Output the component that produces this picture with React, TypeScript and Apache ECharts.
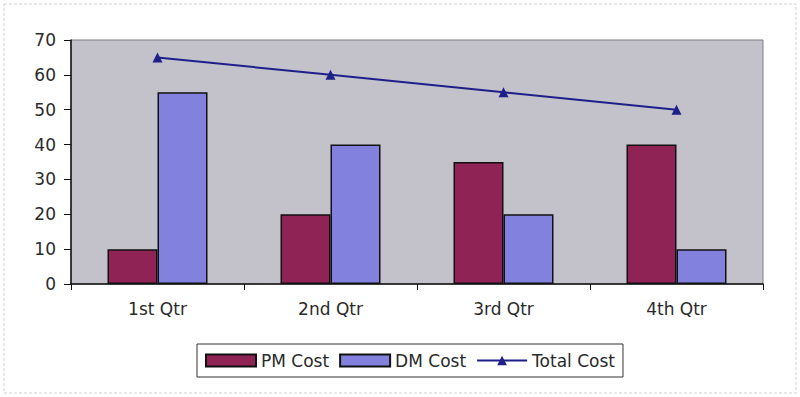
import React, { useEffect, useRef } from "react";
import * as echarts from "echarts";

const categories = ["1st Qtr", "2nd Qtr", "3rd Qtr", "4th Qtr"];
const pmCost = [10, 20, 35, 40];
const dmCost = [55, 40, 20, 10];
const totalCost = [65, 60, 55, 50];

export default function App() {
  const ref = useRef<HTMLDivElement>(null);
  useEffect(() => {
    const chart = echarts.init(ref.current!, null, { renderer: "svg" });
    const font = "'DejaVu Sans', Verdana, sans-serif";
    chart.setOption({
      animation: false,
      backgroundColor: "#ffffff",
      textStyle: { fontFamily: font },
      graphic: [
        {
          type: "rect",
          shape: { x: 4, y: 4, width: 792, height: 389 },
          style: { fill: "none", stroke: "#d0d0d0", lineWidth: 1, lineDash: [3, 2] },
          silent: true,
        },
      ],
      grid: { left: 71, right: 37, top: 40, bottom: 113, show: true, backgroundColor: "#c3c2ca", borderColor: "#808080", borderWidth: 1 },
      legend: {
        bottom: 20,
        left: 197,
        itemGap: 10,
        itemWidth: 50,
        itemHeight: 12,
        borderColor: "#333",
        borderWidth: 1,
        padding: [8, 8],
        textStyle: { fontSize: 17, color: "#2a2a2a", fontFamily: font },
        data: [
          { name: "PM Cost", icon: "rect" },
          { name: "DM Cost", icon: "rect" },
          { name: "Total Cost" },
        ],
      },
      xAxis: {
        type: "category",
        data: categories,
        axisLine: { lineStyle: { color: "#111", width: 1.5 } },
        axisTick: { show: true, length: 6, inside: false, lineStyle: { color: "#111" } },
        axisLabel: { fontSize: 17, color: "#2a2a2a", margin: 16, fontFamily: font },
        splitLine: { show: false },
      },
      yAxis: {
        type: "value",
        min: 0,
        max: 70,
        interval: 10,
        axisLine: { show: true, lineStyle: { color: "#111", width: 1.5 } },
        axisTick: { show: true, length: 7, lineStyle: { color: "#111" } },
        axisLabel: { fontSize: 17, color: "#2a2a2a", margin: 15, fontFamily: font },
        splitLine: { show: false },
      },
      series: [
        {
          name: "PM Cost",
          type: "bar",
          data: pmCost,
          barWidth: 50,
          barGap: "0%",
          itemStyle: { color: "#902356", borderColor: "#111", borderWidth: 1.5 },
        },
        {
          name: "DM Cost",
          type: "bar",
          data: dmCost,
          barWidth: 50,
          barGap: "0%",
          itemStyle: { color: "#8282de", borderColor: "#111", borderWidth: 1.5 },
        },
        {
          name: "Total Cost",
          type: "line",
          data: totalCost,
          symbol: "triangle",
          symbolSize: 10,
          lineStyle: { color: "#1f1f8a", width: 2 },
          itemStyle: { color: "#1f1f8a" },
        },
      ],
    });
    return () => chart.dispose();
  }, []);
  return <div ref={ref} style={{ position: "fixed", left: 0, top: 0, width: 800, height: 397 }} />;
}
